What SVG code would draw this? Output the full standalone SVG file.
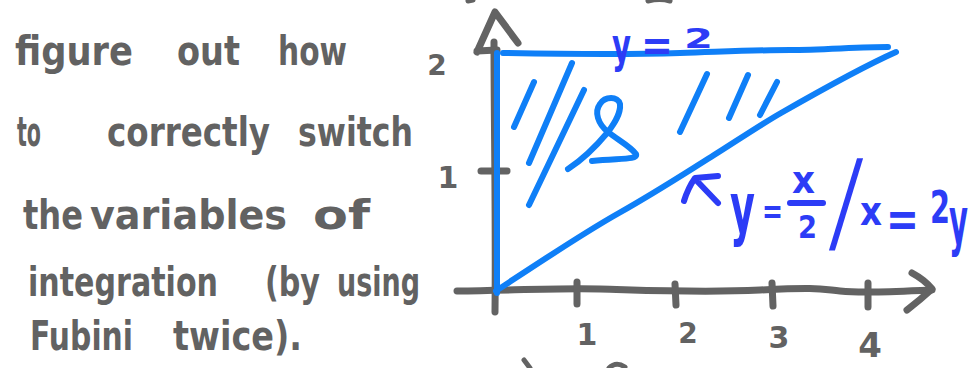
<svg xmlns="http://www.w3.org/2000/svg" width="980" height="368" viewBox="0 0 980 368">
  <style>
    .g { fill: #626262; font-family: "DejaVu Sans", sans-serif; font-weight: bold; }
    .b { fill: #2c3cf6; font-family: "DejaVu Sans", sans-serif; font-weight: bold; }
    .axis { fill: none; stroke: #636363; stroke-width: 7; stroke-linecap: round; stroke-linejoin: round; }
    .reg { fill: none; stroke: #0f7ff7; stroke-width: 6; stroke-linecap: round; stroke-linejoin: round; }
    .lab { fill: none; stroke: #2c3cf6; stroke-width: 6; stroke-linecap: round; stroke-linejoin: round; }
  </style>
  <rect width="980" height="368" fill="#ffffff"/>

  <g id="note">
    <g id="line1">
      <text class="g" x="15" y="65" font-size="40" textLength="118" lengthAdjust="spacingAndGlyphs">figure</text>
      <text class="g" x="177" y="65" font-size="40" textLength="63" lengthAdjust="spacingAndGlyphs">out</text>
      <text class="g" x="278" y="65" font-size="40" textLength="69" lengthAdjust="spacingAndGlyphs">how</text>
    </g>
    <g id="line2">
      <text class="g" x="17" y="146" font-size="40" textLength="24" lengthAdjust="spacingAndGlyphs">to</text>
      <text class="g" x="107" y="146" font-size="40" textLength="163" lengthAdjust="spacingAndGlyphs">correctly</text>
      <text class="g" x="298" y="146" font-size="40" textLength="115" lengthAdjust="spacingAndGlyphs">switch</text>
    </g>
    <g id="line3">
      <text class="g" x="23" y="229" font-size="40" textLength="60" lengthAdjust="spacingAndGlyphs">the</text>
      <text class="g" x="90" y="229" font-size="40" textLength="197" lengthAdjust="spacingAndGlyphs">variables</text>
      <text class="g" x="313" y="229" font-size="40" textLength="57" lengthAdjust="spacingAndGlyphs">of</text>
    </g>
    <g id="line4">
      <text class="g" x="28" y="296" font-size="40" textLength="190" lengthAdjust="spacingAndGlyphs">integration</text>
      <text class="g" x="265" y="296" font-size="40" textLength="55" lengthAdjust="spacingAndGlyphs">(by</text>
      <text class="g" x="337" y="296" font-size="40" textLength="83" lengthAdjust="spacingAndGlyphs">using</text>
    </g>
    <g id="line5">
      <text class="g" x="30" y="350" font-size="40" textLength="103" lengthAdjust="spacingAndGlyphs">Fubini</text>
      <text class="g" x="173" y="350" font-size="40" textLength="129" lengthAdjust="spacingAndGlyphs">twice).</text>
    </g>
  </g>

  <g id="axes">
    <path class="axis" d="M494,42 C494,120 496,220 495,312"/>
    <path class="axis" d="M477,52 L495,12 L518,43 M477,51 L497,50"/>
    <path class="axis" d="M457,291 C520,290 560,288 600,289 S700,293 760,290 S820,289 840,291 S880,292 932,290"/>
    <path class="axis" d="M912,273 Q925,280 932,289 Q920,300 907,310"/>
    <path class="axis" d="M577,282 L577,304 M675,284 L676,305 M772,283 L773,306 M868,283 L868,307"/>
    <path class="axis" d="M481,171 L507,171"/>
    <path class="axis" style="stroke-width:5" d="M468,1 L473,0 M648,1 Q660,-2 670,1 M524,360 L530,368 M609,368 Q616,361 625,367"/>
  </g>

  <g id="axis-labels">
    <text class="g" x="437" y="75" font-size="28" text-anchor="middle">2</text>
    <text class="g" x="448" y="188" font-size="30" text-anchor="middle">1</text>
    <text class="g" x="587" y="345" font-size="30" text-anchor="middle">1</text>
    <text class="g" x="688" y="343" font-size="28" text-anchor="middle">2</text>
    <text class="g" x="779" y="348" font-size="30" text-anchor="middle">3</text>
    <text class="g" x="870" y="357" font-size="34" text-anchor="middle">4</text>
  </g>

  <g id="region">
    <path class="reg" d="M497,53 L497,293"/>
    <path class="reg" d="M503,53 C560,54 620,55 680,53 S760,50 790,50 S860,47 888,47"/>
    <path class="reg" d="M496,291 C540,262 580,235 619,213 S690,170 711,157 S760,125 781,113 S860,68 896,52"/>
    <path class="reg" d="M514,127 L534,82 M529,163 L572,63 M529,205 L584,90 M680,132 L707,74 M729,118 L748,75 M760,115 L777,82"/>
    <path class="reg" d="M568,169 C585,158 598,144 608,132 C598,124 594,112 600,104 C605,96 618,96 620,104 C621,114 614,124 608,132 C618,140 630,146 636,154 C638,160 620,158 592,161"/>
  </g>

  <g id="label-top">
    <text class="b" x="612" y="62" font-size="48" textLength="19" lengthAdjust="spacingAndGlyphs">y</text>
    <text class="b" x="641" y="60" font-size="45" textLength="32" lengthAdjust="spacingAndGlyphs">=</text>
    <text class="b" x="684" y="48" font-size="27" textLength="29" lengthAdjust="spacingAndGlyphs">2</text>
  </g>

  <g id="label-diag">
    <path class="lab" d="M684,201 Q688,188 695,178 L718,176 M697,181 L718,203"/>
    <text class="b" x="730" y="232" font-size="70" textLength="25" lengthAdjust="spacingAndGlyphs">y</text>
    <text class="b" x="762" y="223" font-size="35" textLength="21" lengthAdjust="spacingAndGlyphs">=</text>
    <text class="b" x="792" y="193" font-size="38" textLength="23" lengthAdjust="spacingAndGlyphs">x</text>
    <path class="lab" d="M790,203 L823,203"/>
    <text class="b" x="798" y="238" font-size="32" textLength="19" lengthAdjust="spacingAndGlyphs">2</text>
    <text class="b" transform="translate(830,240) skewX(-6) scale(0.65,1)" x="0" y="0" font-size="112" style="font-weight:normal">/</text>
    <text class="b" x="860" y="225" font-size="40" textLength="22" lengthAdjust="spacingAndGlyphs">x</text>
    <text class="b" x="886" y="236" font-size="50" textLength="33" lengthAdjust="spacingAndGlyphs">=</text>
    <text class="b" x="930" y="223" font-size="45" textLength="20" lengthAdjust="spacingAndGlyphs">2</text>
    <text class="b" x="949" y="243" font-size="64" textLength="19" lengthAdjust="spacingAndGlyphs">y</text>
  </g>
</svg>
